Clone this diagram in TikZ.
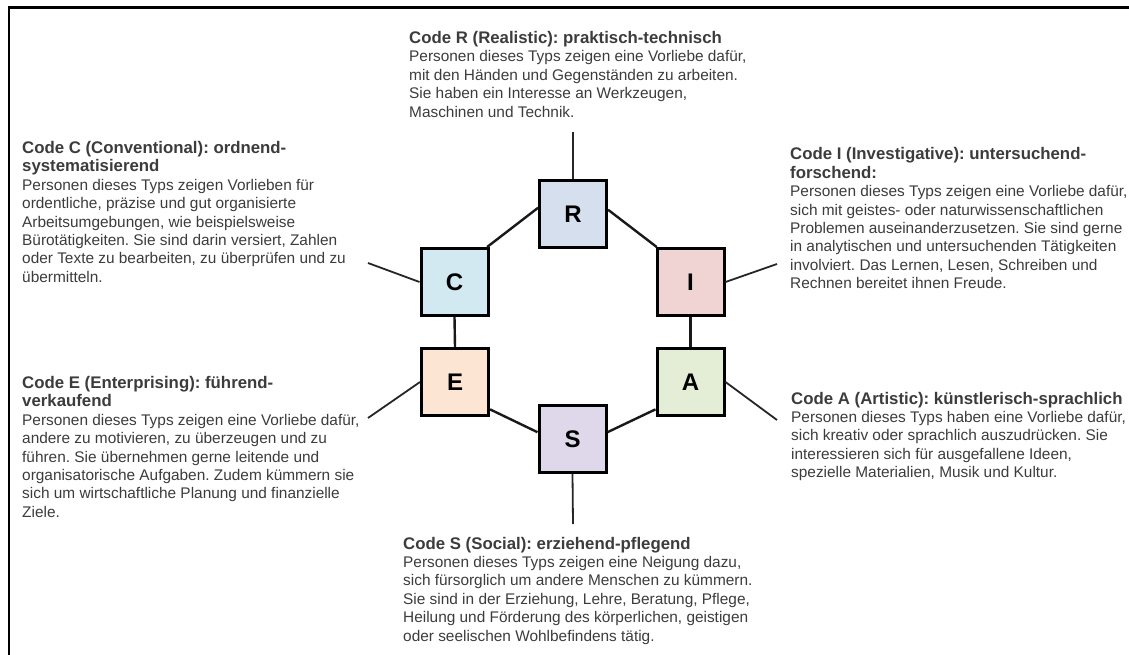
\documentclass[tikz,border=0pt]{standalone}
\usepackage{fontspec}
\setmainfont{Liberation Sans}
\frenchspacing
\definecolor{txt}{RGB}{60,60,60}
\definecolor{cR}{RGB}{213,223,238}
\definecolor{cC}{RGB}{210,233,242}
\definecolor{cI}{RGB}{240,212,212}
\definecolor{cE}{RGB}{253,229,211}
\definecolor{cA}{RGB}{228,238,214}
\definecolor{cS}{RGB}{222,216,234}
\newcommand{\hd}[1]{\fontsize{16.8}{18.4}\selectfont\bfseries #1}
\tikzset{
  box/.style={draw=black, line width=3pt, minimum size=67pt, inner sep=0pt,
    font=\fontsize{24}{24}\selectfont\bfseries, text=black},
  blurb/.style={anchor=base west, inner sep=0pt, text=txt,
    font=\fontsize{15.4}{18.4}\selectfont\frenchspacing},
  link/.style={line width=2.4pt, draw=black!90},
  spoke/.style={line width=1.8pt, draw=black!85},
  frame/.style={line width=2.4pt, draw=black}
}
\begin{document}
\begin{tikzpicture}[x=1pt,y=-1pt]
\useasboundingbox (0,0) rectangle (1129,655);
\fill[white] (0,0) rectangle (1129,655);
\draw[frame] (9,655) -- (9,7.5) -- (1129,7.5);

% boxes
\node[box, fill=cR] (R) at (573,214) {R};
\node[box, fill=cC] (C) at (454.5,282) {C};
\node[box, fill=cI] (I) at (690.5,282) {I};
\node[box, fill=cE] (E) at (455,382) {E};
\node[box, fill=cA] (A) at (690.5,382) {A};
\node[box, fill=cS] (S) at (572.5,439) {S};

% free ends of spokes
\coordinate (pR) at (573,132);
\coordinate (pS) at (573,524);
\coordinate (pC) at (368,263);
\coordinate (pI) at (777,264);
\coordinate (pE) at (368,418);
\coordinate (pA) at (777,420);

% hexagon links
\draw[link] (R.170) -- (C.47);
\draw[link] (R.7) -- (I.134);
\draw[link] (C.south) -- (E.north);
\draw[link] (I.south) -- (A.north);
\draw[link] (E.-38) -- (S.169);
\draw[link] (S.11) -- (A.218);

% spokes
\draw[spoke] (R.north) -- (pR);
\draw[spoke] (S.south) -- (pS);
\draw[spoke] (C.west) -- (pC);
\draw[spoke] (I.east) -- (pI);
\draw[spoke] (E.west) -- (pE);
\draw[spoke] (A.east) -- (pA);

% texts
\node[blurb] (tR) at (409,43.5) {\begin{tabular}[t]{@{}l@{}}
\hd{Code R (Realistic): praktisch-technisch}\\
Personen dieses Typs zeigen eine Vorliebe dafür,\\
mit den Händen und Gegenständen zu arbeiten.\\
Sie haben ein Interesse an Werkzeugen,\\
Maschinen und Technik.
\end{tabular}};

\node[blurb] (tC) at (22,153.5) {\begin{tabular}[t]{@{}l@{}}
\hd{Code C (Conventional): ordnend-}\\
\hd{systematisierend}\\
Personen dieses Typs zeigen Vorlieben für\\
ordentliche, präzise und gut organisierte\\
Arbeitsumgebungen, wie beispielsweise\\
Bürotätigkeiten. Sie sind darin versiert, Zahlen\\
oder Texte zu bearbeiten, zu überprüfen und zu\\
übermitteln.
\end{tabular}};

\node[blurb] (tI) at (790,160) {\begin{tabular}[t]{@{}l@{}}
\hd{Code I (Investigative): untersuchend-}\\
\hd{forschend:}\\
Personen dieses Typs zeigen eine Vorliebe dafür,\\
sich mit geistes- oder naturwissenschaftlichen\\
Problemen auseinanderzusetzen. Sie sind gerne\\
in analytischen und untersuchenden Tätigkeiten\\
involviert. Das Lernen, Lesen, Schreiben und\\
Rechnen bereitet ihnen Freude.
\end{tabular}};

\node[blurb] (tE) at (22,388.5) {\begin{tabular}[t]{@{}l@{}}
\hd{Code E (Enterprising): führend-}\\
\hd{verkaufend}\\
Personen dieses Typs zeigen eine Vorliebe dafür,\\
andere zu motivieren, zu überzeugen und zu\\
führen. Sie übernehmen gerne leitende und\\
organisatorische Aufgaben. Zudem kümmern sie\\
sich um wirtschaftliche Planung und finanzielle\\
Ziele.
\end{tabular}};

\node[blurb] (tA) at (791,404) {\begin{tabular}[t]{@{}l@{}}
\hd{Code A (Artistic): künstlerisch-sprachlich}\\
Personen dieses Typs haben eine Vorliebe dafür,\\
sich kreativ oder sprachlich auszudrücken. Sie\\
interessieren sich für ausgefallene Ideen,\\
spezielle Materialien, Musik und Kultur.
\end{tabular}};

\node[blurb] (tS) at (403,549) {\begin{tabular}[t]{@{}l@{}}
\hd{Code S (Social): erziehend-pflegend}\\
Personen dieses Typs zeigen eine Neigung dazu,\\
sich fürsorglich um andere Menschen zu kümmern.\\
Sie sind in der Erziehung, Lehre, Beratung, Pflege,\\
Heilung und Förderung des körperlichen, geistigen\\
oder seelischen Wohlbefindens tätig.
\end{tabular}};
\end{tikzpicture}
\end{document}
